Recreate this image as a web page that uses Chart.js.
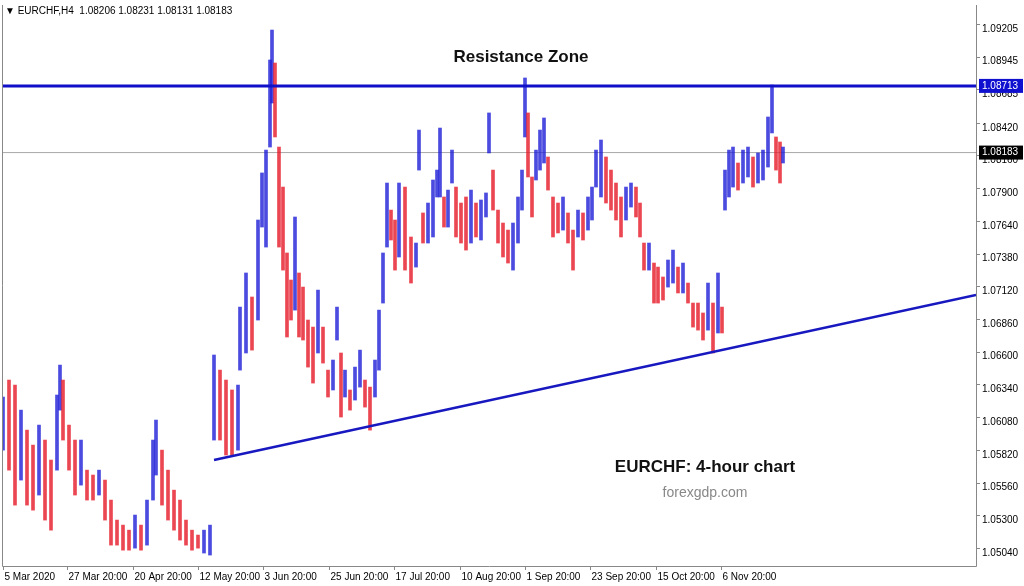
<!DOCTYPE html>
<html><head><meta charset="utf-8">
<script src="https://cdn.jsdelivr.net/npm/chart.js@4.4.1/dist/chart.umd.min.js"></script>
<style>html,body{margin:0;padding:0;background:#fff;}#w{width:1024px;height:586px;position:relative;}</style>
</head><body><div id="w"><canvas id="c"></canvas></div>
<script>
// bar time index (chart time units), highs and lows
const times = [3,9,15,21,27,33,39,45,51,57,60,63,69,75,81,87,93,99,105,111,117,123,129,135,141,147,153,156,162,168,174,180,186,192,198,204,210,214,220,226,232,238,240,246,252,258,262,266,270,272,275,279,283,287,291,295,299,303,308,313,318,323,328,333,337,341,345,350,355,360,365,370,375,379,383,387,391,395,399,405,411,416,419,423,428,433,437,440,444,448,452,456,461,466,471,476,481,486,489,493,498,503,508,513,518,522,525,528,532,536,540,544,548,553,558,563,568,573,578,583,588,592,596,601,606,611,616,621,626,631,636,640,644,649,654,658,663,668,673,678,683,688,693,698,703,708,713,718,722,725,729,733,738,743,748,753,758,763,768,772,776,780,783];
const highs = [1.06240,1.06375,1.06335,1.06136,1.05977,1.05858,1.06017,1.05898,1.05739,1.06256,1.06494,1.06375,1.06017,1.05898,1.05898,1.05659,1.05620,1.05659,1.05580,1.05421,1.05262,1.05222,1.05182,1.05302,1.05222,1.05421,1.05898,1.06057,1.05818,1.05659,1.05500,1.05421,1.05262,1.05182,1.05143,1.05182,1.05222,1.06574,1.06454,1.06375,1.06296,1.06335,1.06955,1.07226,1.07035,1.07647,1.08021,1.08203,1.08919,1.09157,1.08895,1.08227,1.07909,1.07385,1.07170,1.07671,1.07226,1.07114,1.06852,1.06796,1.07090,1.06796,1.06454,1.06534,1.06955,1.06590,1.06454,1.06296,1.06478,1.06613,1.06375,1.06319,1.06534,1.06931,1.07385,1.07941,1.07726,1.07647,1.07941,1.07909,1.07512,1.07464,1.08362,1.07703,1.07782,1.07965,1.08044,1.08378,1.07830,1.07885,1.08203,1.07909,1.07782,1.07830,1.07885,1.07782,1.07806,1.07862,1.08498,1.08044,1.07726,1.07623,1.07567,1.07623,1.07830,1.08044,1.08776,1.08498,1.07989,1.08203,1.08362,1.08458,1.08148,1.07830,1.07782,1.07830,1.07703,1.07567,1.07726,1.07703,1.07830,1.07909,1.08203,1.08283,1.08148,1.08044,1.07941,1.07830,1.07909,1.07941,1.07909,1.07782,1.07464,1.07464,1.07305,1.07273,1.07194,1.07329,1.07408,1.07273,1.07305,1.07146,1.06987,1.06987,1.06908,1.07146,1.06987,1.07226,1.06955,1.08044,1.08203,1.08227,1.08100,1.08203,1.08227,1.08148,1.08180,1.08203,1.08466,1.08720,1.08307,1.08267,1.08227];
const lows = [1.05818,1.05659,1.05381,1.05580,1.05381,1.05341,1.05461,1.05262,1.05182,1.05659,1.06136,1.05898,1.05659,1.05461,1.05540,1.05421,1.05421,1.05461,1.05262,1.05063,1.05063,1.05023,1.05023,1.05039,1.05023,1.05063,1.05421,1.05620,1.05381,1.05262,1.05182,1.05103,1.05063,1.05023,1.05039,1.05000,1.04984,1.05898,1.05898,1.05779,1.05779,1.05818,1.06454,1.06590,1.06613,1.06852,1.07591,1.07432,1.08227,1.08577,1.08307,1.07432,1.07249,1.06717,1.06852,1.06931,1.06717,1.06693,1.06478,1.06351,1.06590,1.06510,1.06240,1.06296,1.06693,1.06081,1.06240,1.06136,1.06216,1.06319,1.06160,1.05977,1.06240,1.06454,1.06987,1.07432,1.07488,1.07249,1.07353,1.07249,1.07146,1.07273,1.08044,1.07464,1.07464,1.07512,1.07830,1.07830,1.07591,1.07591,1.07941,1.07512,1.07464,1.07408,1.07464,1.07512,1.07488,1.07671,1.08180,1.07726,1.07464,1.07353,1.07305,1.07249,1.07464,1.07726,1.08307,1.07989,1.07671,1.07965,1.08044,1.08100,1.07885,1.07512,1.07544,1.07567,1.07464,1.07249,1.07512,1.07488,1.07567,1.07647,1.07909,1.07830,1.07782,1.07726,1.07647,1.07512,1.07647,1.07750,1.07671,1.07512,1.07249,1.07249,1.06987,1.06987,1.07011,1.07114,1.07146,1.07067,1.07067,1.06987,1.06796,1.06772,1.06693,1.06772,1.06590,1.06749,1.06749,1.07726,1.07830,1.07909,1.07885,1.07941,1.07989,1.07909,1.07941,1.07965,1.08068,1.08339,1.08044,1.07941,1.08100];
const yTicks = [1.05040,1.05300,1.05560,1.05820,1.06080,1.06340,1.06600,1.06860,1.07120,1.07380,1.07640,1.07900,1.08160,1.08420,1.08685,1.08945,1.09205];
const xTickPos = [2.5,67,133,198,263,329,394,460,525,590,656,721];
const xTickLabels = ['5 Mar 2020','27 Mar 20:00','20 Apr 20:00','12 May 20:00','3 Jun 20:00','25 Jun 20:00','17 Jul 20:00','10 Aug 20:00','1 Sep 20:00','23 Sep 20:00','15 Oct 20:00','6 Nov 20:00'];
const resistance = 1.08713;
const lastPrice = 1.08183;
const trendT = [214, 976];
const trendP = [1.05739, 1.07051];
const header = '▼ EURCHF,H4  1.08206 1.08231 1.08131 1.08183';

const bars = times.map((t,i)=>({x:t, y:[lows[i], highs[i]]}));
const colors = times.map((t,i)=>{
  const m=(highs[i]+lows[i])/2, p=i?(highs[i-1]+lows[i-1])/2:m;
  return m>=p ? 'rgba(30,30,215,0.8)' : 'rgba(230,25,40,0.8)';
});
const F='"Liberation Sans", Arial, sans-serif';

const overlay = {
  id:'overlay',
  afterDraw(ch){
    const c=ch.ctx, a=ch.chartArea, xs=ch.scales.x, ys=ch.scales.y;
    c.save();
    c.strokeStyle='#888'; c.lineWidth=1;
    c.beginPath(); c.moveTo(a.left+0.5,a.top); c.lineTo(a.left+0.5,a.bottom+0.5); c.lineTo(a.right+0.5,a.bottom+0.5); c.lineTo(a.right+0.5,a.top); c.stroke();
    yTicks.forEach(v=>{const y=Math.round(ys.getPixelForValue(v))+0.5;
      c.beginPath(); c.moveTo(a.right,y); c.lineTo(a.right+4,y); c.stroke();});
    c.fillStyle='#000'; c.font='10px '+F; c.textAlign='left'; c.textBaseline='middle';
    xTickPos.forEach((t,i)=>{const x=Math.round(xs.getPixelForValue(t))+0.5;
      c.beginPath(); c.moveTo(x,a.bottom); c.lineTo(x,a.bottom+4); c.stroke();
      c.fillText(xTickLabels[i], x+1, a.bottom+11);});
    [[resistance,'#1010d0'],[lastPrice,'#000']].forEach(([v,bg])=>{
      const y=ys.getPixelForValue(v);
      c.fillStyle=bg; c.fillRect(a.right+3,y-7,44,14);
      c.fillStyle='#fff'; c.font='10px '+F; c.fillText(v.toFixed(5), a.right+6, y);
    });
    c.fillStyle='#000'; c.font='10px '+F; c.fillText(header, 5, 11);
    c.textAlign='center'; c.font='bold 17px '+F; c.fillStyle='#111';
    c.fillText('Resistance Zone', 521, 57);
    c.fillText('EURCHF: 4-hour chart', 705, 467);
    c.font='14px '+F; c.fillStyle='#888'; c.fillText('forexgdp.com', 705, 493);
    c.restore();
  }
};

new Chart(document.getElementById('c'),{
  type:'bar',
  data:{datasets:[
    {type:'line', data:[{x:2,y:lastPrice},{x:976,y:lastPrice}], borderColor:'#a8a8a8', borderWidth:1, pointRadius:0, order:3},
    {type:'line', data:[{x:2,y:resistance},{x:976,y:resistance}], borderColor:'#1010c8', borderWidth:3, pointRadius:0, order:0},
    {type:'line', data:[{x:trendT[0],y:trendP[0]},{x:trendT[1],y:trendP[1]}], borderColor:'#1818c0', borderWidth:2.5, pointRadius:0, order:0},
    {data:bars, backgroundColor:colors, barThickness:3, order:1, grouped:false}
  ]},
  options:{
    responsive:true, maintainAspectRatio:false, animation:false,
    layout:{padding:{left:2,top:5,right:0,bottom:20}},
    plugins:{legend:{display:false},tooltip:{enabled:false}},
    scales:{
      x:{type:'linear',min:2,max:976,display:false,offset:false},
      y:{position:'right',min:1.04897,max:1.09356,
        grid:{display:false},
        border:{display:false},
        afterBuildTicks(s){s.ticks=yTicks.map(v=>({value:v}));},
        afterFit(s){s.width=48;},
        ticks:{font:{size:10,family:F},color:'#000',padding:-2,align:'start',crossAlign:'near',callback:v=>v.toFixed(5)}
      }
    }
  },
  plugins:[overlay]
});
</script></body></html>
